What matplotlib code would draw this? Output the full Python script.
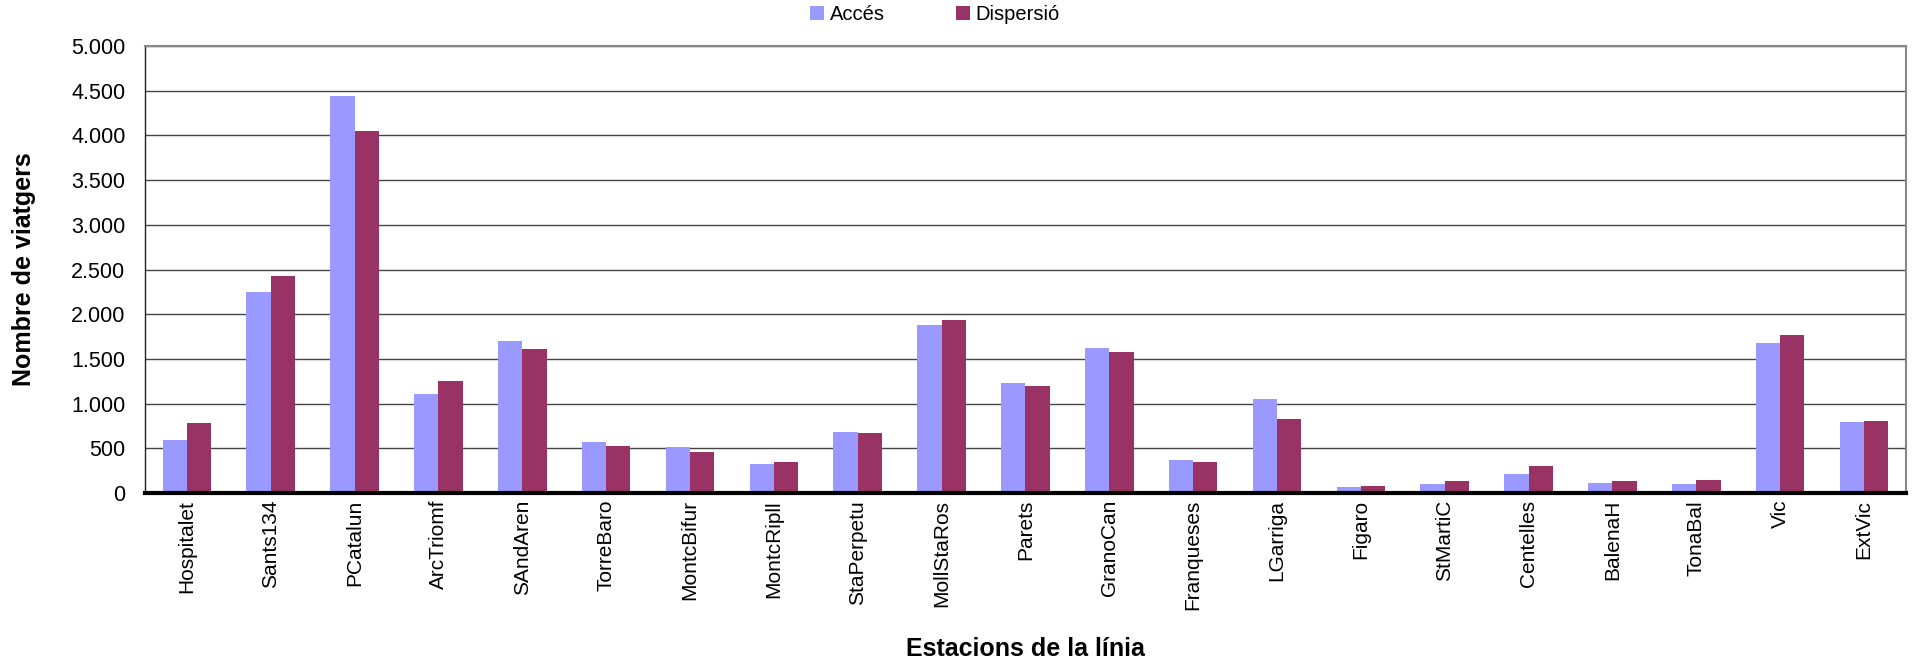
import matplotlib
matplotlib.use("Agg")
import matplotlib.pyplot as plt
import numpy as np
from matplotlib.ticker import FuncFormatter, MultipleLocator

plt.rcParams['font.family'] = ['Liberation Sans', 'DejaVu Sans']

stations = ["Hospitalet", "Sants134", "PCatalun", "ArcTriomf", "SAndAren", "TorreBaro",
            "MontcBifur", "MontcRipll", "StaPerpetu", "MollStaRos", "Parets", "GranoCan",
            "Franqueses", "LGarriga", "Figaro", "StMartiC", "Centelles", "BalenaH",
            "TonaBal", "Vic", "ExtVic"]
acces = [595, 2253, 4440, 1110, 1704, 572, 516, 325, 684, 1883, 1233, 1626,
         370, 1054, 67, 101, 213, 112, 101, 1682, 796]
dispersio = [785, 2433, 4047, 1256, 1614, 527, 460, 348, 673, 1940, 1200, 1581,
             348, 830, 78, 135, 303, 135, 146, 1771, 807]

fig = plt.figure(figsize=(19.12, 6.64), dpi=100)
ax = fig.add_axes([0.0758, 0.2575, 0.921, 0.6732])

x = np.arange(len(stations))
w = 0.29
ax.bar(x - w/2, acces, w, color='#9999FF', label='Accés', zorder=3)
ax.bar(x + w/2, dispersio, w, color='#993366', label='Dispersió', zorder=3)

ax.set_xlim(-0.5, len(stations) - 0.5)
ax.set_ylim(0, 5000)
ax.yaxis.set_major_locator(MultipleLocator(500))
ax.yaxis.set_major_formatter(FuncFormatter(lambda v, p: f"{int(v):,}".replace(",", ".")))
ax.grid(axis='y', color='#444444', linewidth=1.0, zorder=0)
ax.set_axisbelow(True)

ax.set_xticks(x)
ax.set_xticklabels(stations, rotation=90, fontsize=15, va='top')
ax.tick_params(axis='x', length=0, pad=5)
ax.tick_params(axis='y', labelsize=15.5, length=0, pad=14)

for s in ['top', 'right']:
    ax.spines[s].set_color('#888888')
    ax.spines[s].set_linewidth(1.5)
ax.spines['left'].set_color('#222222')
ax.spines['left'].set_linewidth(1.0)
ax.spines['bottom'].set_color('black')
ax.spines['bottom'].set_linewidth(3.0)
ax.spines['bottom'].set_zorder(4)

ax.set_ylabel('Nombre de viatgers', fontsize=18, fontweight='bold', va='center')
ax.yaxis.set_label_coords(-0.0687, 0.5)
ax.set_xlabel('Estacions de la línia', fontsize=18, fontweight='bold', va='center')
ax.xaxis.set_label_coords(0.5, -0.349)

fig.legend(loc='center', bbox_to_anchor=(0.489, 0.978), ncol=2, frameon=False,
           fontsize=14.5, handlelength=0.7, handleheight=0.7, handletextpad=0.3,
           columnspacing=3.5)

fig.savefig('out.png', dpi=100)
